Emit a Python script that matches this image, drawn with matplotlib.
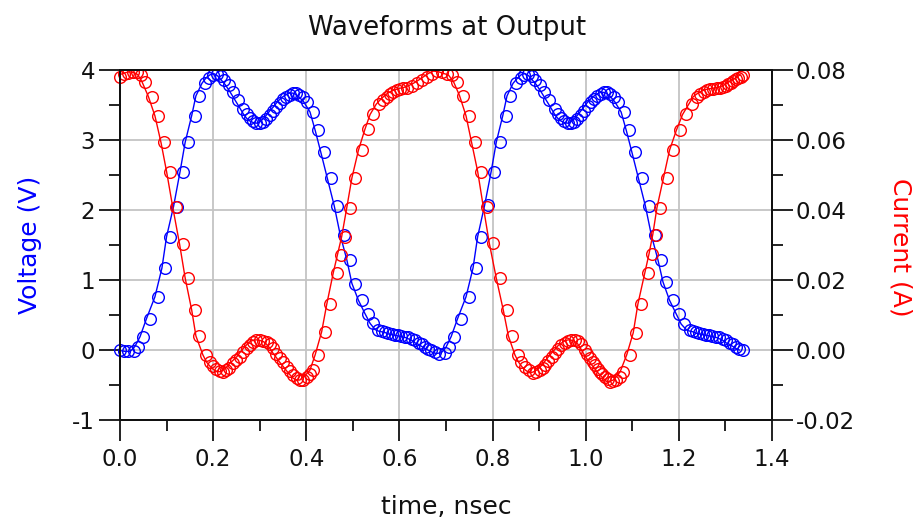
import matplotlib
matplotlib.use('Agg')
import matplotlib.pyplot as plt
from matplotlib.ticker import MultipleLocator, FormatStrFormatter
from matplotlib.patches import Rectangle

plt.rcParams['font.family'] = ['DejaVu Sans']
plt.rcParams['axes.unicode_minus'] = False

# ---------------- data ----------------
t_voltage = [0.000, 0.009, 0.018, 0.029, 0.039, 0.050, 0.064, 0.082, 0.097, 0.107,
             0.122, 0.136, 0.147, 0.161, 0.170, 0.183, 0.192, 0.200, 0.208, 0.216,
             0.224, 0.233, 0.243, 0.254, 0.265, 0.272, 0.279, 0.286, 0.293, 0.300,
             0.307, 0.314, 0.322, 0.329, 0.336, 0.343, 0.350, 0.357, 0.364, 0.371,
             0.378, 0.385, 0.392, 0.401, 0.415, 0.426, 0.438, 0.452, 0.467, 0.480,
             0.494, 0.505, 0.519, 0.533, 0.544, 0.555, 0.562, 0.569, 0.576, 0.583,
             0.590, 0.597, 0.604, 0.611, 0.619, 0.626, 0.633, 0.641, 0.648, 0.655,
             0.662,
             0.668, 0.677, 0.686, 0.697, 0.707, 0.718, 0.732, 0.750, 0.765, 0.775,
             0.790, 0.804, 0.815, 0.829, 0.838, 0.851, 0.860, 0.868, 0.876, 0.884,
             0.892, 0.901, 0.911, 0.922, 0.933, 0.940, 0.947, 0.954, 0.961, 0.968,
             0.975, 0.982, 0.990, 0.997, 1.004, 1.011, 1.018, 1.025, 1.032, 1.039,
             1.046, 1.053, 1.060, 1.069, 1.083, 1.094, 1.106, 1.120, 1.135, 1.148,
             1.162, 1.173, 1.187, 1.201, 1.212, 1.223, 1.230, 1.237, 1.244, 1.251,
             1.258, 1.265, 1.272, 1.279, 1.287, 1.294, 1.301, 1.309, 1.316, 1.323,
             1.330, 1.337]
voltage = [0.00, -0.01, -0.02, -0.02, 0.05, 0.19, 0.45, 0.76, 1.17, 1.62,
           2.05, 2.55, 2.97, 3.35, 3.63, 3.81, 3.89, 3.93, 3.95, 3.92,
           3.86, 3.79, 3.69, 3.57, 3.45, 3.37, 3.31, 3.27, 3.25, 3.24,
           3.26, 3.30, 3.36, 3.42, 3.47, 3.53, 3.58, 3.62, 3.65, 3.67,
           3.67, 3.65, 3.61, 3.55, 3.40, 3.14, 2.83, 2.46, 2.06, 1.64,
           1.29, 0.95, 0.71, 0.52, 0.38, 0.29, 0.27, 0.26, 0.25, 0.23,
           0.22, 0.21, 0.20, 0.19, 0.18, 0.16, 0.14, 0.10, 0.08, 0.05,
           0.02,
           0.00, -0.03, -0.05, -0.04, 0.04, 0.19, 0.45, 0.76, 1.17, 1.62,
           2.07, 2.55, 2.97, 3.35, 3.63, 3.81, 3.88, 3.93, 3.95, 3.92,
           3.86, 3.79, 3.69, 3.57, 3.45, 3.37, 3.31, 3.27, 3.25, 3.24,
           3.26, 3.30, 3.36, 3.42, 3.48, 3.54, 3.59, 3.63, 3.66, 3.68,
           3.68, 3.66, 3.62, 3.55, 3.40, 3.14, 2.83, 2.46, 2.06, 1.64,
           1.29, 0.97, 0.71, 0.52, 0.37, 0.29, 0.27, 0.26, 0.24, 0.23,
           0.22, 0.21, 0.20, 0.19, 0.18, 0.16, 0.14, 0.10, 0.08, 0.05,
           0.02, 0.00]

t_current = [0.000, 0.009, 0.018, 0.027, 0.036, 0.045, 0.054, 0.068, 0.082, 0.095,
             0.107, 0.120, 0.135, 0.147, 0.161, 0.170, 0.185, 0.193, 0.200, 0.207,
             0.214, 0.221, 0.228, 0.235, 0.243, 0.250, 0.258, 0.265, 0.272, 0.279,
             0.286, 0.293, 0.301, 0.308, 0.315, 0.322, 0.329, 0.336, 0.343, 0.350,
             0.358, 0.365, 0.372, 0.379, 0.386, 0.393, 0.401, 0.408, 0.415, 0.426,
             0.440, 0.451, 0.465, 0.474, 0.483, 0.494, 0.505, 0.519, 0.533, 0.544,
             0.557, 0.565, 0.573, 0.580, 0.587, 0.594, 0.601, 0.608, 0.616, 0.626,
             0.637, 0.648, 0.659,
             0.669, 0.680, 0.691, 0.702, 0.712, 0.723, 0.736, 0.750, 0.762, 0.775,
             0.787, 0.800, 0.815, 0.830, 0.841, 0.855, 0.862, 0.870, 0.878, 0.886,
             0.894, 0.902, 0.908, 0.913, 0.920, 0.927, 0.934, 0.941, 0.948, 0.955,
             0.962, 0.969, 0.976, 0.983, 0.990, 0.998, 1.003, 1.009, 1.015, 1.020,
             1.026, 1.031, 1.036, 1.041, 1.047, 1.052, 1.059, 1.066, 1.073, 1.081,
             1.095, 1.109, 1.119, 1.134, 1.143, 1.151, 1.160, 1.174, 1.187, 1.202,
             1.215, 1.228, 1.238, 1.246, 1.253, 1.260, 1.267, 1.274, 1.281, 1.288,
             1.295, 1.301, 1.306, 1.312, 1.317, 1.323, 1.328, 1.333, 1.338]
current = [0.0781, 0.0788, 0.0792, 0.0795, 0.0793, 0.0787, 0.0767, 0.0724, 0.0669, 0.0593,
           0.0510, 0.0410, 0.0302, 0.0205, 0.0114, 0.0040, -0.0014, -0.0035, -0.0046, -0.0055,
           -0.0061, -0.0062, -0.0058, -0.0050, -0.0038, -0.0029, -0.0019, -0.0006, 0.0005, 0.0015,
           0.0024, 0.0028, 0.0029, 0.0027, 0.0024, 0.0016, 0.0005, -0.0010, -0.0022, -0.0035,
           -0.0048, -0.0060, -0.0071, -0.0081, -0.0085, -0.0086, -0.0076, -0.0068, -0.0057, -0.0014,
           0.0052, 0.0131, 0.0221, 0.0272, 0.0324, 0.0407, 0.0492, 0.0571, 0.0631, 0.0673,
           0.0702, 0.0714, 0.0724, 0.0732, 0.0738, 0.0742, 0.0745, 0.0748, 0.0750, 0.0755,
           0.0762, 0.0771, 0.0781,
           0.0790, 0.0797, 0.0795, 0.0790, 0.0786, 0.0767, 0.0727, 0.0669, 0.0593, 0.0510,
           0.0410, 0.0305, 0.0205, 0.0114, 0.0040, -0.0014, -0.0033, -0.0048, -0.0058, -0.0065,
           -0.0063, -0.0057, -0.0050, -0.0043, -0.0031, -0.0019, -0.0008, 0.0002, 0.0013, 0.0020,
           0.0026, 0.0029, 0.0028, 0.0025, 0.0017, 0.0000, -0.0012, -0.0024, -0.0034, -0.0043,
           -0.0053, -0.0062, -0.0069, -0.0076, -0.0084, -0.0090, -0.0089, -0.0086, -0.0076, -0.0062,
           -0.0014, 0.0049, 0.0131, 0.0221, 0.0275, 0.0330, 0.0407, 0.0492, 0.0571, 0.0629,
           0.0673, 0.0702, 0.0724, 0.0732, 0.0738, 0.0742, 0.0745, 0.0747, 0.0748, 0.0750,
           0.0752, 0.0755, 0.0759, 0.0764, 0.0769, 0.0773, 0.0776, 0.0781, 0.0786]

x_ticks = [0.0, 0.2, 0.4, 0.6, 0.8, 1.0, 1.2, 1.4]
v_ticks = [-1, 0, 1, 2, 3, 4]
i_ticks = [-0.02, 0.00, 0.02, 0.04, 0.06, 0.08]

# line trace leads the marker trace slightly
line_lag = 0.007

# ---------------- figure ----------------
W, H = 924, 521
fig = plt.figure(figsize=(W / 100, H / 100), dpi=100)
ax = fig.add_axes([120 / W, 1 - 420 / H, 652 / W, 350 / H])
ax2 = ax.twinx()

ax.set_xlim(0, 1.4)
ax.set_ylim(-1, 4)
ax2.set_ylim(-0.02, 0.08)

ax.set_xticks(x_ticks)
ax.set_yticks(v_ticks)
ax2.set_yticks(i_ticks)
ax.xaxis.set_minor_locator(MultipleLocator(0.1))
ax.yaxis.set_minor_locator(MultipleLocator(0.5))
ax2.yaxis.set_minor_locator(MultipleLocator(0.01))
ax.xaxis.set_major_formatter(FormatStrFormatter('%.1f'))
ax.yaxis.set_major_formatter(FormatStrFormatter('%d'))
ax2.yaxis.set_major_formatter(FormatStrFormatter('%.2f'))

tick_col = '#111111'
for a in (ax, ax2):
    for s in a.spines.values():
        s.set_linewidth(1.4)
        s.set_color(tick_col)
ax.tick_params(axis='both', which='major', direction='out', length=15, width=1.3,
               labelsize=16.5, colors=tick_col, pad=3)
ax.tick_params(axis='both', which='minor', direction='out', length=8, width=1.3,
               colors=tick_col)
ax.tick_params(axis='x', pad=5)
ax2.tick_params(axis='y', which='major', direction='out', length=15, width=1.3,
                labelsize=16.5, colors=tick_col, pad=2)
ax2.tick_params(axis='y', which='minor', direction='out', length=8, width=1.3,
                colors=tick_col)

ax.grid(True, which='major', color='#c4c4c4', linewidth=1.3)
ax.set_axisbelow(True)

blue = '#0000ff'
red = '#ff0000'

t_vline = [t - line_lag for t in t_voltage]
t_iline = [t - line_lag for t in t_current]
ax.plot(t_vline, voltage, color=blue, linewidth=1.0)
mk_v, = ax.plot(t_voltage, voltage, linestyle='none', marker='o', markersize=8.4,
                markerfacecolor='none', markeredgecolor=blue, markeredgewidth=1.0)
ax2.plot(t_iline, current, color=red, linewidth=1.0)
mk_i, = ax2.plot(t_current, current, linestyle='none', marker='o', markersize=8.4,
                 markerfacecolor='none', markeredgecolor=red, markeredgewidth=1.0)

clip_v = Rectangle((-0.05, 0), 1.1, 1, transform=ax.transAxes, visible=False)
clip_i = Rectangle((-0.05, 0), 1.1, 1, transform=ax2.transAxes, visible=False)
ax.add_patch(clip_v)
ax2.add_patch(clip_i)
mk_v.set_clip_path(clip_v)
mk_i.set_clip_path(clip_i)

txt_col = '#111111'
fig.text(447 / W, 1 - 35 / H, 'Waveforms at Output', ha='center', va='baseline',
         fontsize=18.6, color=txt_col)
fig.text(446 / W, 1 - 507 / H, 'time, nsec', ha='center', va='center',
         fontsize=18, color=txt_col)
fig.text(30 / W, 1 - 245 / H, 'Voltage (V)', ha='center', va='center',
         rotation=90, fontsize=18, color=blue)
fig.text(900 / W, 1 - 247 / H, 'Current (A)', ha='center', va='center',
         rotation=270, fontsize=18, color=red)

fig.savefig('out.png', dpi=100)
